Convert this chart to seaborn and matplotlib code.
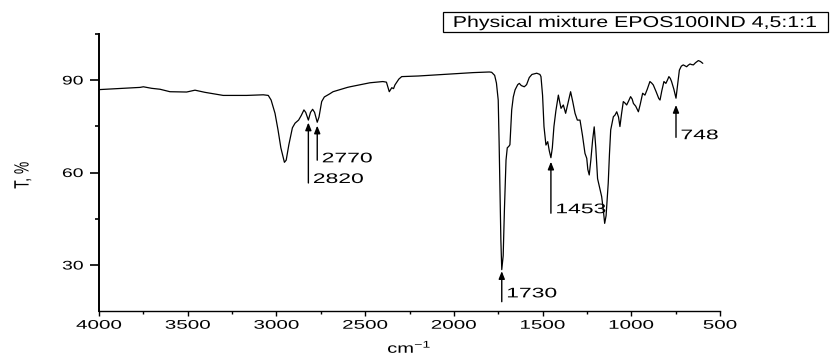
import numpy as np
import pandas as pd
import matplotlib
matplotlib.use("Agg")
import matplotlib.pyplot as plt
from matplotlib.patches import Rectangle
from matplotlib.patheffects import AbstractPathEffect
from matplotlib.transforms import Affine2D
from matplotlib.ticker import MultipleLocator, FixedLocator
import seaborn as sns

# FTIR spectrum of the physical mixture (wavenumber in cm-1, transmittance in %)
wavenumber = [
    4000, 3994, 3863, 3769, 3750, 3703, 3656, 3600, 3506, 3459, 3403, 3300, 3168, 3074, 3046,
    3030, 3008, 2991, 2975, 2955, 2945, 2930, 2910, 2895, 2875, 2860, 2845, 2835, 2820, 2808,
    2796, 2785, 2770, 2760, 2745, 2730, 2700, 2681, 2600, 2585, 2473, 2400, 2380, 2364, 2350,
    2340, 2332, 2310, 2294, 2200, 2116, 2000, 1890, 1800, 1787, 1770, 1760, 1750, 1745, 1740,
    1735, 1730, 1722, 1715, 1706, 1699, 1690, 1684, 1678, 1674, 1665, 1655, 1640, 1631, 1620,
    1603, 1590, 1575, 1560, 1533, 1515, 1509, 1500, 1492, 1481, 1471, 1462, 1453, 1445, 1436,
    1425, 1411, 1404, 1396, 1383, 1370, 1355, 1342, 1330, 1317, 1304, 1289, 1275, 1261, 1251,
    1245, 1237, 1228, 1218, 1209, 1200, 1190, 1180, 1167, 1158, 1150, 1142, 1130, 1123, 1116,
    1101, 1092, 1082, 1072, 1064, 1055, 1045, 1035, 1026, 1015, 1004, 995, 988, 975, 960,
    950, 936, 923, 910, 895, 885, 876, 860, 845, 838, 828, 816, 805, 796, 788,
    780, 773, 760, 748, 740, 729, 718, 707, 698, 688, 679, 669, 660, 650, 638,
    622, 610, 597,
]
transmittance = [
    86.8, 86.9, 87.3, 87.6, 87.8, 87.3, 87.0, 86.2, 86.1, 86.7, 86.0, 85.0, 85.0, 85.2, 85.0,
    83.5, 79.2, 73.8, 68.0, 63.3, 64.0, 69.0, 74.5, 76.0, 77.0, 78.5, 80.3, 79.5, 77.0, 79.5,
    80.5, 79.5, 76.3, 78.0, 83.0, 84.5, 85.5, 86.2, 87.6, 87.8, 89.1, 89.5, 89.3, 86.2, 87.5,
    87.2, 88.4, 90.3, 91.1, 91.3, 91.6, 92.0, 92.4, 92.6, 92.5, 91.5, 89.0, 83.5, 70.0, 53.0,
    38.0, 28.5, 33.0, 48.0, 64.0, 68.0, 68.5, 69.0, 76.0, 80.3, 84.5, 86.8, 88.5, 88.9, 88.2,
    87.8, 88.5, 90.8, 91.8, 92.2, 91.8, 91.1, 85.0, 74.9, 68.9, 70.0, 67.0, 64.8, 68.0, 74.9,
    80.0, 85.1, 83.0, 80.8, 81.9, 79.2, 83.0, 86.2, 83.0, 79.2, 77.0, 77.0, 72.0, 66.2, 64.6,
    61.0, 59.2, 64.0, 70.5, 74.8, 68.0, 58.0, 55.5, 52.2, 48.0, 43.5, 46.0, 56.5, 66.0, 73.8,
    78.1, 78.6, 79.7, 78.0, 74.9, 79.0, 83.0, 82.5, 81.9, 83.2, 84.6, 83.8, 82.4, 81.5, 79.7,
    82.0, 85.7, 85.1, 87.0, 89.5, 89.0, 88.4, 86.2, 84.0, 83.5, 86.5, 89.5, 88.9, 90.0, 91.1,
    90.5, 89.5, 87.0, 84.1, 88.0, 93.2, 94.5, 94.9, 94.6, 94.3, 94.8, 95.2, 95.0, 94.9, 95.6,
    96.3, 96.0, 95.4,
]

# Marked bands: wavenumber label, arrow tip and arrow tail (in % T)
band_labels = ["2820", "2770", "1730", "1453", "748"]
band_wn = [2820, 2770, 1730, 1453, 748]
band_tip = [76.2, 75.2, 28.0, 63.5, 81.9]
band_tail = [56.6, 64.0, 18.1, 46.8, 71.4]
band_text_y = [56.6, 63.3, 19.5, 46.8, 70.8]

x_ticks = [4000, 3500, 3000, 2500, 2000, 1500, 1000, 500]
y_ticks = [30, 60, 90]
sample_name = "Physical mixture EPOS100IND 4,5:1:1"


class Widen(AbstractPathEffect):
    """Draw text glyphs stretched horizontally around a chosen anchor."""

    def __init__(self, sx=1.6, sy=1.0, anchor="center"):
        super().__init__()
        self.sx, self.sy, self.anchor = sx, sy, anchor

    def draw_path(self, renderer, gc, tpath, affine, rgbFace=None):
        ext = tpath.get_extents()
        if self.anchor == "left":
            ax0 = 0.0
        elif self.anchor == "right":
            ax0 = ext.x1
        else:
            ax0 = 0.5 * (ext.x0 + ext.x1)
        ay0 = 0.5 * (ext.y0 + ext.y1)
        t = Affine2D().translate(-ax0, -ay0).scale(self.sx, self.sy).translate(ax0, ay0)
        renderer.draw_path(gc, tpath, t + affine, rgbFace)


sns.set_theme(style="ticks")
plt.rcParams["font.family"] = ["Liberation Sans", "DejaVu Sans"]
plt.rcParams["mathtext.default"] = "regular"

df = pd.DataFrame({"wn": wavenumber, "T": transmittance})

fig = plt.figure(figsize=(8.35, 3.6), dpi=100)
ax = fig.add_axes([99 / 835, 1 - 311.25 / 360, 621 / 835, 277.5 / 360])

sns.lineplot(data=df, x="wn", y="T", sort=False, estimator=None,
             color="black", lw=0.9, ax=ax)

ax.set_xlim(4000, 500)
ax.set_ylim(15, 105)
ax.xaxis.set_major_locator(FixedLocator(x_ticks))
ax.xaxis.set_minor_locator(MultipleLocator(250))
ax.yaxis.set_major_locator(FixedLocator(y_ticks))
ax.yaxis.set_minor_locator(FixedLocator([45, 75, 105]))
ax.set_xticklabels([str(v) for v in x_ticks])
ax.set_yticklabels([str(v) for v in y_ticks])

for side in ("top", "right"):
    ax.spines[side].set_visible(False)
ax.spines["left"].set_linewidth(1.4)
ax.spines["bottom"].set_linewidth(1.0)
ax.spines["left"].set_color("black")
ax.spines["bottom"].set_color("black")

ax.tick_params(axis="x", which="major", direction="out", length=3.6, width=1.0,
               color="black", pad=2.5, labelsize=9, labelcolor="black")
ax.tick_params(axis="x", which="minor", direction="out", length=2.2, width=1.0, color="black")
ax.tick_params(axis="y", which="major", direction="out", length=6.3, width=1.2,
               color="black", pad=5, labelsize=9, labelcolor="black")
ax.tick_params(axis="y", which="minor", direction="out", length=3.1, width=1.2, color="black")

ax.set_xlabel("cm$^{-1}$", fontsize=10, color="black", va="baseline")
ax.xaxis.set_label_coords(0.5, -0.150)
ax.set_ylabel("T, %", fontsize=10, color="black", va="center")
ax.yaxis.set_label_coords(-0.123, 0.49)
ax.xaxis.label.set_path_effects([Widen(1.45, anchor="center")])
ax.yaxis.label.set_path_effects([Widen(1.0, 1.5, anchor="center")])

for lab, wn, tip, tail, ty in zip(band_labels, band_wn, band_tip, band_tail, band_text_y):
    ax.annotate("", xy=(wn, tip), xytext=(wn, tail),
                arrowprops=dict(arrowstyle="-|>,head_length=0.45,head_width=0.18",
                                color="black", lw=1.0, shrinkA=0, shrinkB=0,
                                mutation_scale=10))
    t = ax.annotate(lab, xy=(wn, ty), xytext=(3.2, 0), textcoords="offset points",
                    ha="left", va="baseline", fontsize=10, color="black")
    t.set_path_effects([Widen(1.65, anchor="left")])

# Sample name in a framed box above the plot
fig.patches.append(Rectangle((443 / 835, 1 - 32 / 360), 385 / 835, 20 / 360,
                             transform=fig.transFigure, fill=False,
                             edgecolor="black", lw=0.9))
title = fig.text(635.5 / 835, 1 - 22.5 / 360, sample_name, ha="center", va="center",
                 fontsize=11.3, color="black")
title.set_path_effects([Widen(1.36, anchor="center")])

fig.canvas.draw()
for tick in ax.xaxis.get_major_ticks():
    tick.label1.set_path_effects([Widen(1.65, anchor="center")])
for tick in ax.yaxis.get_major_ticks():
    tick.label1.set_path_effects([Widen(1.55, anchor="right")])

fig.savefig("out.png", dpi=100)
